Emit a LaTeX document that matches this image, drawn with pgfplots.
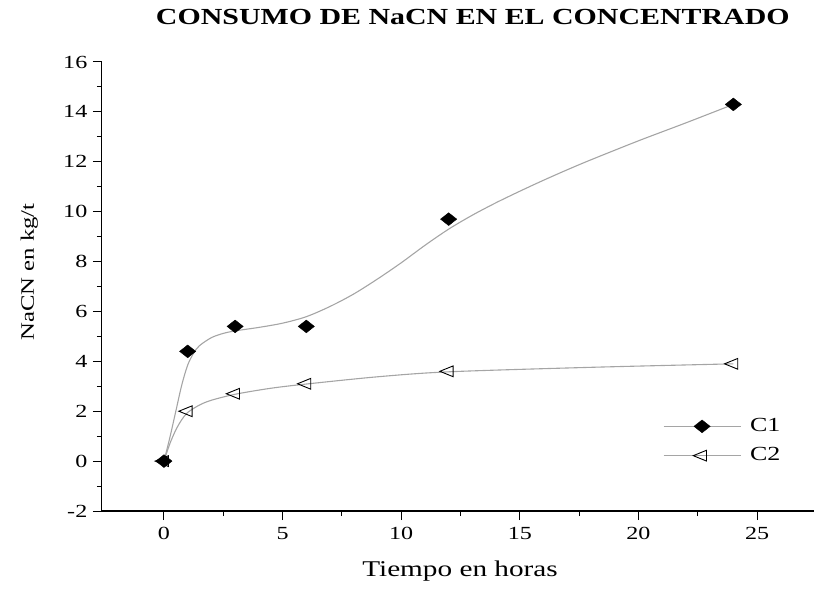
\documentclass[border=0pt]{standalone}
\usepackage{pgfplots}
\pgfplotsset{compat=1.18}
\usepackage{fontspec}
\setmainfont{Liberation Serif}[FakeStretch=1.3]
\definecolor{curvegray}{RGB}{165,165,165}
\begin{document}
\begin{tikzpicture}
\begin{axis}[
  name=ax,
  scale only axis,
  width=712.2bp, height=449bp,
  xmin=-2.62, xmax=27.4,
  ymin=-2, ymax=16,
  axis x line*=bottom, axis y line*=left,
  axis line style={line width=1.1bp, black},
  xtick={0,5,10,15,20,25},
  ytick={-2,0,2,4,6,8,10,12,14,16},
  minor xtick={2.5,7.5,12.5,17.5,22.5},
  minor ytick={-1,1,3,5,7,9,11,13,15},
  tick align=outside,
  major tick length=9bp, minor tick length=5bp,
  every tick/.style={black, line width=1bp},
  /pgf/number format/assume math mode=true,
  ticklabel style={font=\fontsize{18.5bp}{20bp}\selectfont},
  yticklabel style={xshift=-2bp},
  xticklabel style={yshift=-4bp},
  title={\textbf{CONSUMO DE NaCN EN EL CONCENTRADO}},
  title style={font=\fontsize{23bp}{26bp}\selectfont, at={(axis description cs:0.521,1)}, anchor=base, yshift=32bp, inner sep=0pt},
  xlabel={Tiempo en horas},
  xlabel style={font=\fontsize{22.5bp}{25bp}\selectfont, at={(axis description cs:0.503,0)}, anchor=base, yshift=-65bp, inner sep=0pt},
  ylabel={NaCN en kg/t},
  ylabel style={font=\fontsize{19bp}{22bp}\selectfont, at={(axis description cs:-0.0952,0.532)}, anchor=base, inner sep=0pt},
  legend style={draw=none, fill=none, inner sep=0pt, outer sep=0pt,
    at={(axis description cs:0.788,0.213)}, anchor=north west,
    font=\fontsize{20bp}{22bp}\selectfont,
    nodes={inner sep=2bp, text height=14bp, text depth=4bp},
    row sep=7.3bp,
    /tikz/every odd column/.append style={column sep=7bp}},
  legend cell align=left,
  legend image code/.code={
    \draw[curvegray, line width=1.1bp, solid] (0bp,0bp) -- (77bp,0bp);
    \draw[mark repeat=2, mark phase=2, only marks] plot coordinates {(0bp,0bp) (38.5bp,0bp) (77bp,0bp)};
  },
]
% fitted curves
\addplot[curvegray, line width=1.1bp, smooth, no marks, forget plot] coordinates {
(0,0) (0.25,0.95) (0.5,2.0) (0.75,3.05) (1,3.85) (1.25,4.33) (1.5,4.63) (2,4.95) (2.5,5.12) (3,5.22) (4,5.36) (5,5.53) (6,5.79) (7,6.2) (8,6.7) (9,7.3) (10,7.95) (11,8.65) (12,9.3) (13,9.86) (14,10.36) (15,10.82) (16,11.26) (17,11.68) (18,12.08) (20,12.84) (22,13.56) (24,14.3)};
\addplot[curvegray, line width=1.1bp, smooth, no marks, forget plot] coordinates {
(0,0) (0.25,0.7) (0.5,1.25) (0.75,1.66) (1,1.95) (1.5,2.25) (2,2.44) (3,2.68) (4.5,2.92) (6,3.09) (9,3.38) (12,3.58) (18,3.76) (24,3.9)};
% data points
\addplot[only marks, mark=diamond*, mark size=6.4bp, mark options={xscale=1.69, fill=black, draw=black}] coordinates {
(0,0) (1,4.4) (3,5.4) (6,5.4) (12,9.7) (24,14.3)};
\addlegendentry{C1}
\addplot[only marks, mark=triangle, mark size=6.2bp, mark options={xscale=1.42, rotate=90, fill=white, draw=black, line width=0.9bp}] coordinates {
(0,0) (1,2.0) (3,2.7) (6,3.1) (12,3.6) (24,3.9)};
\addlegendentry{C2}
\end{axis}
\pgfresetboundingbox
\path ([xshift=-101.8bp,yshift=-79bp]ax.south west) rectangle ([yshift=62bp]ax.north east);
\end{tikzpicture}
\end{document}
